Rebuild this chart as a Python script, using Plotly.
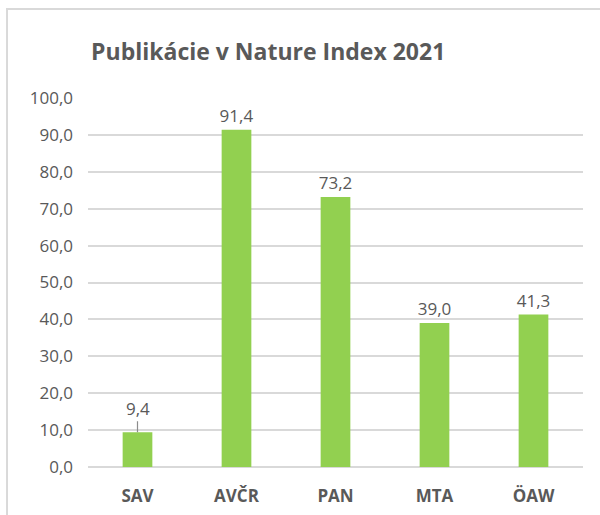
import plotly.graph_objects as go

categories = ["SAV", "AVČR", "PAN", "MTA", "ÖAW"]
values = [9.4, 91.4, 73.2, 39.0, 41.3]
y_ticks = [0, 10, 20, 30, 40, 50, 60, 70, 80, 90, 100]

GRAY = "#595959"
FONT = "Open Sans"

fig = go.Figure()
texts = ["" if i == 0 else f"{v:.1f}".replace(".", ",") for i, v in enumerate(values)]
fig.add_trace(go.Bar(
    x=categories, y=values,
    marker=dict(color="#92D050", line=dict(width=0)),
    text=texts, textposition="outside", constraintext="none",
    textfont=dict(family=FONT, size=17, color=GRAY),
    cliponaxis=False,
    hoverinfo="skip",
))

fig.add_annotation(
    x=categories[0], y=values[0], xref="x", yref="y",
    text=f"{values[0]:.1f}".replace(".", ","),
    showarrow=True, arrowhead=0, arrowwidth=1.2, arrowcolor="#8c8c8c",
    ax=0, ay=-24, standoff=0,
    font=dict(family=FONT, size=17, color=GRAY),
)

fig.update_layout(
    width=600, height=515,
    margin=dict(l=88, r=17, t=98, b=48, autoexpand=False),
    paper_bgcolor="white", plot_bgcolor="white",
    separators=", ",
    bargap=0.7,
    showlegend=False,
    title=dict(
        text="<b>Publikácie v Nature Index 2021</b>",
        font=dict(family=FONT, size=23, color=GRAY),
        x=0.447, xanchor="center", y=0.9, yanchor="middle",
    ),
    xaxis=dict(
        tickfont=dict(family=FONT, size=17, color=GRAY, weight="bold"),
        showline=False, showgrid=False, ticks="",
        ticklabelstandoff=17, automargin=False,
    ),
    yaxis=dict(
        range=[0, 100], tickvals=y_ticks, tickformat=".1f",
        tickfont=dict(family=FONT, size=17, color=GRAY),
        showgrid=True, gridcolor="#d9d9d9", gridwidth=1.5,
        zeroline=True, zerolinecolor="#d9d9d9", zerolinewidth=1.5,
        showline=False, ticks="", ticklabelstandoff=14, automargin=False,
    ),
    shapes=[
        dict(type="rect", xref="paper", yref="paper",
             x0=-0.1656, x1=1.1, y0=1.2385, y1=1.2439,
             fillcolor="#d9d9d9", line=dict(width=0)),
        dict(type="rect", xref="paper", yref="paper",
             x0=-0.1656, x1=-0.1616, y0=-0.3, y1=1.2439,
             fillcolor="#d9d9d9", line=dict(width=0)),
    ],
)

fig.write_html("out.html", config={"displayModeBar": False},
               post_script="document.body.style.margin='0';")
